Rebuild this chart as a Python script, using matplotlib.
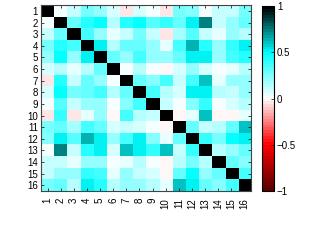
import numpy as np
import matplotlib
matplotlib.use('Agg')
from matplotlib import pyplot as plt
from matplotlib.colors import LinearSegmentedColormap

plt.rcParams['font.family'] = ['Liberation Sans', 'DejaVu Sans']

labels = [str(i) for i in range(1, 17)]

# lower triangle of the correlation matrix, read row by row
lower = [
    [1.0],
    [0.00, 1.0],
    [0.10, 0.30, 1.0],
    [0.25, 0.42, 0.35, 1.0],
    [0.20, 0.48, 0.20, 0.50, 1.0],
    [0.07, 0.15, 0.05, 0.15, 0.30, 1.0],
    [-0.04, 0.42, 0.10, 0.30, 0.20, 0.03, 1.0],
    [0.08, 0.47, 0.28, 0.30, 0.35, 0.15, 0.30, 1.0],
    [0.00, 0.32, 0.10, 0.20, 0.20, 0.00, 0.22, 0.35, 1.0],
    [-0.06, 0.40, -0.06, 0.05, 0.20, -0.03, 0.35, 0.15, 0.10, 1.0],
    [0.25, 0.30, 0.18, 0.35, 0.30, 0.07, 0.10, 0.08, 0.00, -0.03, 1.0],
    [0.22, 0.50, 0.32, 0.65, 0.50, 0.20, 0.35, 0.50, 0.22, 0.05, 0.30, 1.0],
    [0.00, 0.74, 0.10, 0.42, 0.50, 0.08, 0.60, 0.50, 0.38, 0.60, 0.10, 0.40, 1.0],
    [0.10, 0.12, 0.05, 0.20, 0.20, 0.00, 0.05, 0.15, 0.00, -0.03, 0.15, 0.25, 0.15, 1.0],
    [0.12, 0.20, 0.20, 0.38, 0.35, 0.05, 0.20, 0.10, 0.07, -0.03, 0.30, 0.48, 0.20, 0.30, 1.0],
    [0.25, 0.30, 0.15, 0.50, 0.42, 0.15, 0.20, 0.20, 0.15, 0.05, 0.62, 0.50, 0.30, 0.22, 0.35, 1.0],
]

n = len(labels)
M = np.zeros((n, n))
for i, row in enumerate(lower):
    for j, v in enumerate(row):
        M[i, j] = v
        M[j, i] = v

cmap = LinearSegmentedColormap.from_list(
    'rwc', [(0.0, (0.35, 0, 0)), (0.25, (1, 0, 0)), (0.5, (1, 1, 1)),
            (0.75, (0, 1, 1)), (1.0, (0, 0, 0))], N=64)

fig = plt.figure(figsize=(3.15, 2.44), dpi=100)
ax = fig.add_axes([0.130, 0.217, 0.667, 0.762])
im = ax.imshow(M, cmap=cmap, vmin=-1, vmax=1, aspect='auto', interpolation='nearest')
ax.set_xticks(range(n))
ax.set_yticks(range(n))
ax.set_xticklabels(labels, rotation=90, fontsize=7)
ax.set_yticklabels(labels, fontsize=7)
ax.tick_params(direction='in', length=2, width=0.5, top=True, right=True, pad=2)
ax.tick_params(axis='x', pad=5)
for s in ax.spines.values():
    s.set_linewidth(0.8)
    s.set_color('#444444')

cax = fig.add_axes([0.832, 0.217, 0.038, 0.758])
cb = fig.colorbar(im, cax=cax, ticks=[-1, -0.5, 0, 0.5, 1])
cb.ax.set_yticklabels(['\u22121', '\u22120.5', '0', '0.5', '1'], fontsize=7)
cb.ax.tick_params(direction='in', length=2, width=0.5, pad=2)
cb.outline.set_linewidth(0.8)

plt.savefig('out.png', dpi=100)
